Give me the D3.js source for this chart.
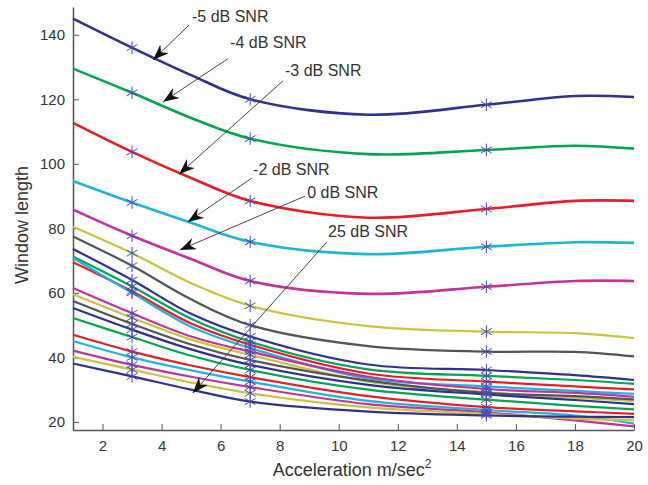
<!DOCTYPE html>
<html>
<head>
<meta charset="utf-8">
<title>Window length vs acceleration</title>
<script src="https://cdn.jsdelivr.net/npm/d3@7"></script>
<style>
body { margin: 0; background: #fff; }
text { font-family: "Liberation Sans", Arial, sans-serif; fill: #333; }
.axis path, .axis line { stroke: #555; }
</style>
</head>
<body>
<script>

var accel = [1, 3, 5, 7, 11, 15, 18, 20];
// x positions that carry a * marker
var markerAccel = [3, 7, 15];

// window length per curve, same order as accel
var windowLength = [
  [145.0, 136.0, 127.5, 120.0, 115.2, 118.3, 121.0, 120.7],
  [129.5, 122.0, 114.2, 107.8, 103.0, 104.3, 105.6, 104.7],
  [112.7, 103.7, 95.6, 88.5, 83.3, 86.0, 88.5, 88.5],
  [94.7, 88.0, 81.7, 75.8, 72.0, 74.3, 75.7, 75.5],
  [85.8, 77.7, 70.5, 63.7, 59.7, 61.9, 63.7, 63.7],
  [80.5, 72.3, 63.0, 56.0, 49.7, 48.0, 47.5, 46.0],
  [77.5, 68.4, 58.0, 50.0, 43.5, 41.8, 41.7, 40.3],
  [73.6, 64.0, 53.5, 46.5, 37.8, 36.1, 34.5, 33.0],
  [71.3, 62.0, 52.0, 44.9, 36.3, 34.3, 33.0, 31.8],
  [69.5, 60.5, 50.5, 43.9, 35.0, 32.5, 31.0, 30.1],
  [70.8, 60.0, 49.5, 42.9, 33.5, 31.0, 29.6, 28.7],
  [61.5, 53.7, 46.5, 41.8, 34.0, 30.2, 29.0, 27.8],
  [59.6, 52.3, 45.5, 40.8, 32.5, 29.2, 27.5, 26.5],
  [57.5, 50.4, 44.0, 39.2, 32.8, 29.0, 28.0, 27.0],
  [55.3, 48.6, 42.5, 37.7, 31.5, 28.5, 26.8, 25.5],
  [52.2, 46.3, 40.5, 36.1, 30.0, 26.9, 25.0, 23.9],
  [47.0, 41.8, 37.5, 33.9, 28.0, 24.6, 23.3, 22.5],
  [45.1, 40.0, 36.0, 32.5, 26.5, 23.7, 22.0, 19.5],
  [42.1, 37.7, 34.0, 30.8, 25.5, 23.0, 20.5, 18.6],
  [40.2, 36.2, 32.2, 28.9, 24.5, 22.5, 21.0, 20.5],
  [38.1, 34.1, 30.0, 26.3, 23.2, 22.0, 21.6, 21.5]
];

var palette = ["#2e3192", "#00a651", "#ed1c24", "#1cb5de", "#c4329a", "#c9c43c", "#4f5656"];
var lineColors = palette.concat(palette, palette.slice(0, 6), ["#2e3192"]);

var xTicks = [2, 4, 6, 8, 10, 12, 14, 16, 18, 20];
var yTicks = [20, 40, 60, 80, 100, 120, 140];

// annotation text, where the text sits and where its arrow points (data units)
var noteText = ["-5 dB SNR", "-4 dB SNR", "-3 dB SNR", "-2 dB SNR", "0 dB SNR", "25 dB SNR"];
var noteAt = [[5.03, 144.0], [6.32, 135.9], [8.18, 127.2], [7.10, 96.5], [8.93, 89.4], [9.64, 77.3]];
var noteFrom = [[4.93, 143.0], [6.25, 132.6], [8.11, 125.7], [7.06, 95.6], [8.86, 90.0], [9.60, 75.8]];
var noteTip = [[3.71, 132.2], [4.05, 119.2], [4.59, 96.8], [4.89, 82.0], [4.62, 73.3], [5.06, 29.0]];

var width = 648, height = 485;

var svg = d3.select("body").append("svg")
  .attr("width", width).attr("height", height);

var x = d3.scaleLinear().domain([1, 20]).range([73, 634]);
var y = d3.scaleLinear().domain([17.5, 148.6]).range([430, 7]);

// axes, ticks pointing inward like matlab
var xAxis = svg.append("g").attr("class", "axis")
  .attr("transform", "translate(0,430)")
  .call(d3.axisBottom(x).tickValues(xTicks).tickSizeInner(-6).tickSizeOuter(0).tickPadding(10));
var yAxis = svg.append("g").attr("class", "axis")
  .attr("transform", "translate(73,0)")
  .call(d3.axisLeft(y).tickValues(yTicks).tickSizeInner(-6).tickSizeOuter(0).tickPadding(8));
svg.selectAll(".axis text").style("font-size", "15px").attr("fill", "#333");
svg.selectAll(".axis path").attr("stroke-width", 1.5);

var line = d3.line()
  .x(function(d, i) { return x(accel[i]); })
  .y(function(d) { return y(d); })
  .curve(d3.curveCatmullRom.alpha(0.5));

svg.append("g").selectAll("path")
  .data(windowLength)
  .enter().append("path")
  .attr("d", line)
  .attr("fill", "none")
  .attr("stroke", function(d, i) { return lineColors[i]; })
  .attr("stroke-width", function(d, i) { return i < 5 ? 2.6 : 2.2; });

// * markers
var star = d3.symbol().type(d3.symbolAsterisk).size(110);
var marks = [];
windowLength.forEach(function(row) {
  markerAccel.forEach(function(a) {
    marks.push([a, row[accel.indexOf(a)]]);
  });
});
svg.append("g").selectAll("path")
  .data(marks)
  .enter().append("path")
  .attr("d", star)
  .attr("transform", function(d) { return "translate(" + x(d[0]) + "," + y(d[1]) + ")"; })
  .attr("fill", "none")
  .attr("stroke", "#4a4ab8")
  .attr("stroke-width", 1);

// arrow head, matlab style notched
var defs = svg.append("defs");
defs.append("marker")
  .attr("id", "head")
  .attr("viewBox", "0 0 16 12")
  .attr("refX", 16).attr("refY", 6)
  .attr("markerWidth", 16).attr("markerHeight", 12)
  .attr("markerUnits", "userSpaceOnUse")
  .attr("orient", "auto")
  .append("path")
  .attr("d", "M0,0 L16,6 L0,12 L5,6 Z")
  .attr("fill", "#111");

var notes = svg.append("g");
noteText.forEach(function(t, i) {
  notes.append("line")
    .attr("x1", x(noteFrom[i][0])).attr("y1", y(noteFrom[i][1]))
    .attr("x2", x(noteTip[i][0])).attr("y2", y(noteTip[i][1]))
    .attr("stroke", "#333").attr("stroke-width", 0.9)
    .attr("marker-end", "url(#head)");
  notes.append("text")
    .attr("x", x(noteAt[i][0])).attr("y", y(noteAt[i][1]))
    .style("font-size", "16px")
    .text(t);
});

svg.append("text")
  .attr("x", 352).attr("y", 476)
  .attr("text-anchor", "middle")
  .style("font-size", "18px")
  .html("Acceleration m/sec<tspan dy='-8' font-size='12px'>2</tspan>");

svg.append("text")
  .attr("transform", "translate(28,225) rotate(-90)")
  .attr("text-anchor", "middle")
  .style("font-size", "18px")
  .text("Window length");

</script>
</body>
</html>
